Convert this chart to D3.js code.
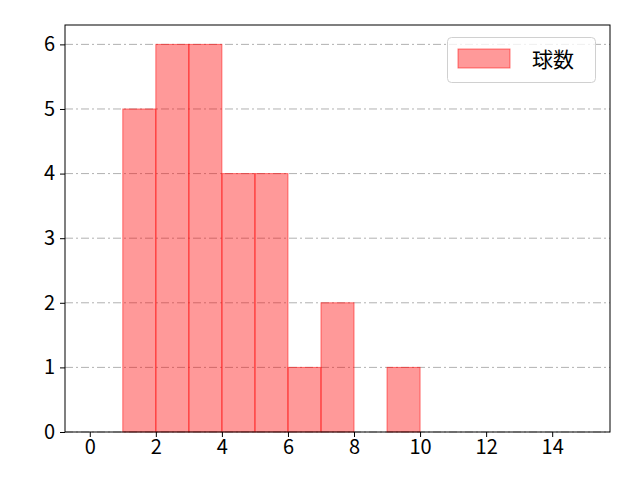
<!DOCTYPE html>
<html>
<head>
<meta charset="utf-8">
<script src="https://cdn.jsdelivr.net/npm/d3@7"></script>
<style>
body { margin: 0; background: #fff; }
text { font-family: "Noto Sans CJK JP", "DejaVu Sans", sans-serif; }
</style>
</head>
<body>
<script>
// histogram bins (left edge, right edge) and counts
var binStarts = [1, 2, 3, 4, 5, 6, 7, 9];
var binEnds   = [2, 3, 4, 5, 6, 7, 8, 10];
var counts    = [5, 6, 6, 4, 4, 1, 2, 1];
var xTicks = [0, 2, 4, 6, 8, 10, 12, 14];
var yTicks = [0, 1, 2, 3, 4, 5, 6];
var seriesName = "球数";

var width = 640, height = 480;
var margin = {top: 25, right: 30, bottom: 48, left: 65};

var svg = d3.select("body").append("svg")
    .attr("width", width)
    .attr("height", height);

var x = d3.scaleLinear()
    .domain([-0.75, 15.75])
    .range([margin.left, width - margin.right]);

var y = d3.scaleLinear()
    .domain([0, 6.3])
    .range([height - margin.bottom, margin.top]);

//grid lines
svg.selectAll(".grid")
    .data(yTicks)
    .enter()
    .append("line")
    .attr("x1", margin.left)
    .attr("x2", width - margin.right)
    .attr("y1", function(d){ return y(d); })
    .attr("y2", function(d){ return y(d); })
    .attr("stroke", "#a8a8a8")
    .attr("stroke-width", 0.9)
    .attr("stroke-dasharray", "8,3,2,3");

//bars
svg.selectAll(".bar")
    .data(counts)
    .enter()
    .append("rect")
    .attr("x", function(d, i){ return x(binStarts[i]); })
    .attr("width", function(d, i){ return x(binEnds[i]) - x(binStarts[i]); })
    .attr("y", function(d){ return y(d); })
    .attr("height", function(d){ return y(0) - y(d); })
    .attr("fill", "rgba(255,0,0,0.4)")
    .attr("stroke", "rgba(255,0,0,0.5)")
    .attr("stroke-width", 1);

//axes
var xAxis = svg.append("g")
    .attr("transform", "translate(0," + (height - margin.bottom) + ")")
    .call(d3.axisBottom(x).tickValues(xTicks).tickFormat(d3.format("d")).tickSize(5).tickPadding(3));
var yAxis = svg.append("g")
    .attr("transform", "translate(" + margin.left + ",0)")
    .call(d3.axisLeft(y).tickValues(yTicks).tickFormat(d3.format("d")).tickSize(5).tickPadding(5));
[xAxis, yAxis].forEach(function(a){
    a.select(".domain").remove();
    a.selectAll("text").attr("font-size", 20).attr("fill", "#000")
        .style("font-family", "'Noto Sans CJK JP', sans-serif");
    a.selectAll("line").attr("stroke", "#000");
});

//frame
svg.append("rect")
    .attr("x", margin.left)
    .attr("y", margin.top)
    .attr("width", width - margin.left - margin.right)
    .attr("height", height - margin.top - margin.bottom)
    .attr("fill", "none")
    .attr("stroke", "#000")
    .attr("stroke-width", 1);

//legend
var legend = svg.append("g");
legend.append("rect")
    .attr("x", 447.5).attr("y", 37.5)
    .attr("width", 148).attr("height", 45)
    .attr("rx", 4)
    .attr("fill", "rgba(255,255,255,0.8)")
    .attr("stroke", "#d0d0d0");
legend.append("rect")
    .attr("x", 458).attr("y", 49)
    .attr("width", 52).attr("height", 19)
    .attr("fill", "rgba(255,0,0,0.4)")
    .attr("stroke", "rgba(255,0,0,0.5)");
legend.append("text")
    .attr("x", 532).attr("y", 67)
    .attr("font-size", 21)
    .text(seriesName);
</script>
</body>
</html>
